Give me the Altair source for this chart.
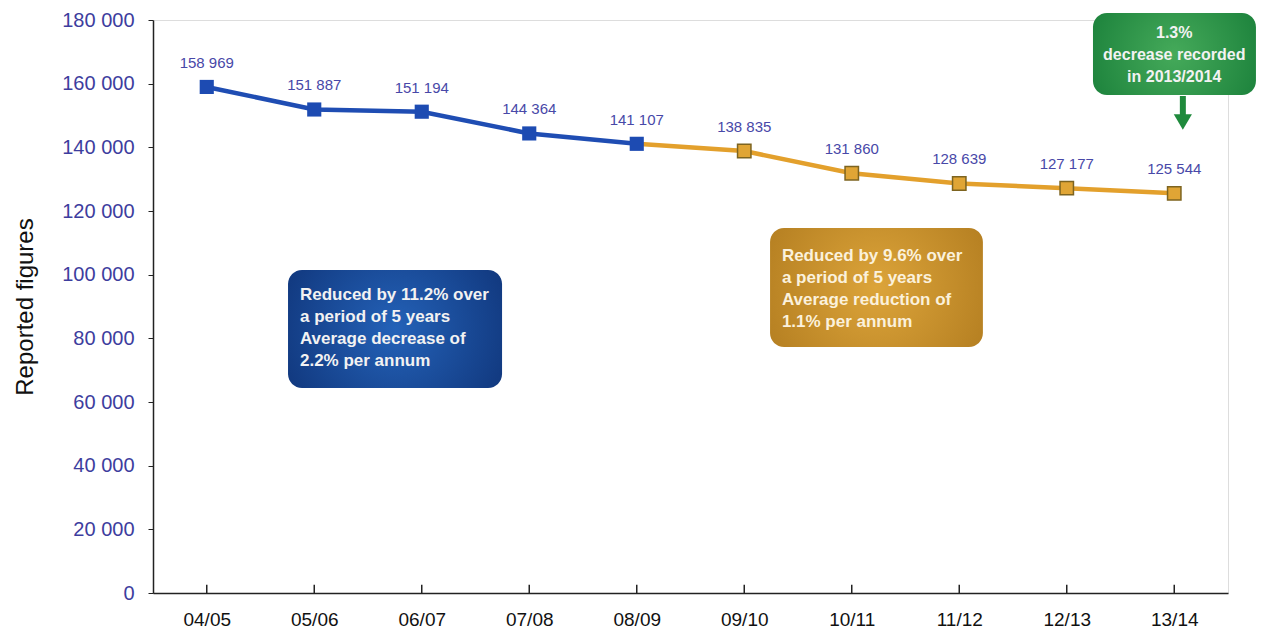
import altair as alt
import pandas as pd

# ---- data ----
years = ["04/05", "05/06", "06/07", "07/08", "08/09", "09/10", "10/11", "11/12", "12/13", "13/14"]
values = [158969, 151887, 151194, 144364, 141107, 138835, 131860, 128639, 127177, 125544]
split_index = 4  # 08/09 ends the first five-year period

box_texts = [
    "Reduced by 11.2% over\na period of 5 years\nAverage decrease of\n2.2% per annum",
    "Reduced by 9.6% over\na period of 5 years\nAverage reduction of\n1.1% per annum",
    "1.3%\ndecrease recorded\nin 2013/2014",
]

# annotation anchors in data units (x = category index, y = reported figures)
box_x = [0.756, 5.24, 8.244]
box_x2 = [2.747, 7.22, 9.76]
box_y = [101466, 114660, 182199]
box_y2 = [64398, 77277, 156440]
text_x = [0.867, 5.35, 9.0]
text_y = [96126, 108377, 178430]
arrow_x = 9.08
arrow_top = 156126
arrow_mid = 149215
arrow_head = 147959

# ---- tables ----
idx = list(range(len(years)))
line_rows = []
for i in idx:
    if i <= split_index:
        line_rows.append({"i": i, "v": values[i], "seg": "first"})
    if i >= split_index:
        line_rows.append({"i": i, "v": values[i], "seg": "second"})
line_df = pd.DataFrame(line_rows)

pts_df = pd.DataFrame({
    "i": idx,
    "v": values,
    "seg": ["first" if i <= split_index else "second" for i in idx],
})

label_expr = "[" + ",".join("'%s'" % y for y in years) + "][datum.value]"

x_scale = alt.Scale(domain=[-0.5, len(years) - 0.5], nice=False, zero=False)
y_scale = alt.Scale(domain=[0, 180000], nice=False)

x_axis = alt.Axis(values=idx, labelExpr=label_expr, ticks=False, grid=False,
                  labelFontSize=19, labelColor="#111111", labelPadding=17,
                  domainColor="#222222", domainWidth=1.5, title=None,
                  labelFont="Liberation Sans")
y_axis = alt.Axis(values=list(range(0, 180001, 20000)),
                  labelExpr="replace(format(datum.value, ','), ',', ' ')",
                  grid=False, labelFontSize=20, labelColor="#3d3d9e",
                  labelFont="Liberation Sans", labelPadding=14,
                  tickSize=5, tickColor="#222222", domainColor="#222222",
                  domainWidth=1.5, title="Reported figures", titleFontSize=24,
                  titleFontWeight="normal", titleColor="#111111",
                  titleFont="Liberation Sans", titlePadding=24)

X = alt.X("i:Q", scale=x_scale, axis=x_axis)
Y = alt.Y("v:Q", scale=y_scale, axis=y_axis)

seg_color = alt.Color("seg:N", scale=alt.Scale(domain=["first", "second"],
                                               range=["#1f4db3", "#e3a02c"]),
                      legend=None)

lines = alt.Chart(line_df).mark_line(strokeWidth=4.5).encode(
    x=X, y=Y, color=seg_color, detail="seg:N")

pts_blue = alt.Chart(pts_df).transform_filter("datum.seg == 'first'").mark_point(
    shape="square", filled=True, size=200, color="#1d4bb2", opacity=1).encode(
    x=alt.X("i:Q", scale=x_scale), y=alt.Y("v:Q", scale=y_scale))

pts_orange = alt.Chart(pts_df).transform_filter("datum.seg == 'second'").mark_point(
    shape="square", filled=True, size=180, fill="#e0a535", stroke="#7d6420",
    strokeWidth=1.5, opacity=1).encode(
    x=alt.X("i:Q", scale=x_scale), y=alt.Y("v:Q", scale=y_scale))

labels = alt.Chart(pts_df).transform_calculate(
    lbl="replace(format(datum.v, ','), ',', ' ')"
).mark_text(dy=-24, fontSize=15, color="#4848a8", font="Liberation Sans").encode(
    x=alt.X("i:Q", scale=x_scale), y=alt.Y("v:Q", scale=y_scale), text="lbl:N")

# inward x ticks
tick_df = pd.DataFrame({"i": idx, "y0": [0] * len(idx), "y1": [2600] * len(idx)})
xticks = alt.Chart(tick_df).mark_rule(color="#222222", strokeWidth=1.5).encode(
    x=alt.X("i:Q", scale=x_scale), y=alt.Y("y0:Q", scale=y_scale), y2="y1:Q")


def grad(center, edge):
    return {"gradient": "radial", "x1": 0.5, "y1": 0.5, "r1": 0,
            "x2": 0.5, "y2": 0.5, "r2": 0.75,
            "stops": [{"offset": 0, "color": center}, {"offset": 1, "color": edge}]}


fills = [grad("#2462b8", "#0b2b6c"), grad("#dca43a", "#a9741a"), grad("#45aa5a", "#0f7532")]
font_sizes = [17, 17, 16]

layers = [lines, xticks, pts_blue, pts_orange, labels]
for k in range(3):
    bdf = pd.DataFrame({"x": [box_x[k]], "x2": [box_x2[k]], "y": [box_y[k]], "y2": [box_y2[k]]})
    layers.append(alt.Chart(bdf).mark_rect(cornerRadius=14, fill=fills[k]).encode(
        x=alt.X("x:Q", scale=x_scale), x2="x2:Q",
        y=alt.Y("y:Q", scale=y_scale), y2="y2:Q"))
    tdf = pd.DataFrame({"x": [text_x[k]], "y": [text_y[k]], "t": [box_texts[k]]})
    layers.append(alt.Chart(tdf).mark_text(
        align="center" if k == 2 else "left", baseline="top", lineBreak="\n",
        lineHeight=22, fontSize=font_sizes[k], fontWeight="bold",
        color="#f2f2f2" if k != 1 else "#fbf1dc", font="Liberation Sans").encode(
        x=alt.X("x:Q", scale=x_scale), y=alt.Y("y:Q", scale=y_scale), text="t:N"))

adf = pd.DataFrame({"x": [arrow_x], "y": [arrow_top], "y2": [arrow_mid], "yh": [arrow_head]})
layers.append(alt.Chart(adf).mark_rule(color="#1f8a3c", strokeWidth=6).encode(
    x=alt.X("x:Q", scale=x_scale), y=alt.Y("y:Q", scale=y_scale), y2="y2:Q"))
layers.append(alt.Chart(adf).mark_point(shape="triangle-down", filled=True, size=330,
                                        color="#1f8a3c", opacity=1).encode(
    x=alt.X("x:Q", scale=x_scale), y=alt.Y("yh:Q", scale=y_scale)))

chart = alt.layer(*layers).properties(
    width=1075, height=573,
    autosize=alt.AutoSizeParams(type="none"),
    padding={"left": 145, "top": 12, "right": 40, "bottom": 40},
).configure_view(stroke=None).configure(background="white")

chart.save("out.html", embed_options={"renderer": "svg", "actions": False})
